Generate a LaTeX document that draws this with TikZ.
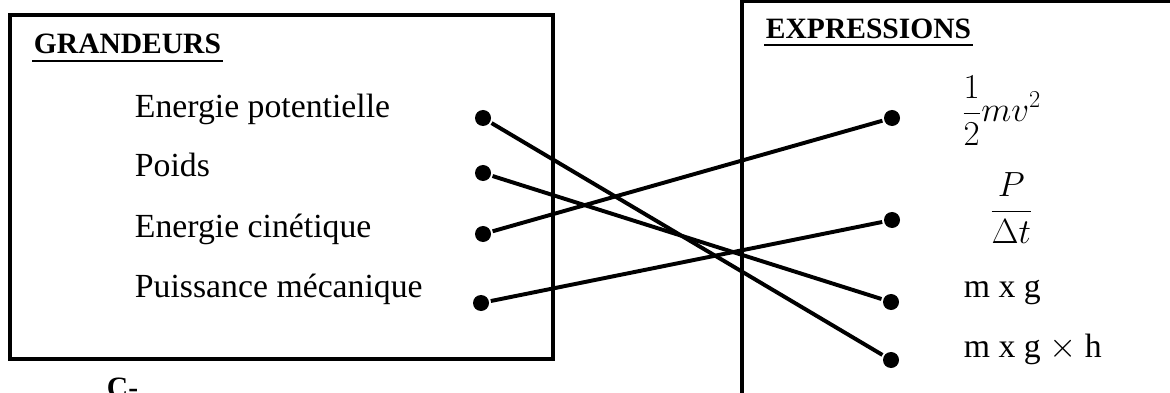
\documentclass[tikz,border=0pt]{standalone}
\usepackage{amsmath}
\usepackage{fontspec}
\setmainfont{Liberation Serif}
\usetikzlibrary{positioning}

\begin{document}
\begin{tikzpicture}[x=0.025cm,y=-0.025cm,line width=2.8pt,
  title/.style={font=\fontsize{21}{25}\selectfont\bfseries,anchor=base west,inner sep=0pt},
  item/.style={font=\fontsize{24}{28}\selectfont,anchor=base west,inner sep=0pt},
  dot/.style={circle,fill=black,inner sep=0pt,minimum size=0.4cm},
  link/.style={line width=2.8pt},
  uline/.style={line width=1.6pt}
]
  \useasboundingbox (0,0) rectangle (1170,393);
  % left box
  \draw (10,15) rectangle (553,359);
  \node[title] (gr) at (32,54) {GRANDEURS};
  \draw[uline] ([yshift=-3.5pt]gr.south west) -- ([yshift=-3.5pt]gr.south east);
  \node[item] (ep) at (133,118) {Energie potentielle};
  \node[item] (pd) at (133,177) {Poids};
  \node[item] (ec) at (133,237) {Energie cinétique};
  \node[item] (pm) at (133,297) {Puissance mécanique};
  \node[title] (lc) at (105,397) {C-};
  % right box
  \draw (742,393) -- (742,1) -- (1180,1);
  \node[title] (ex) at (764,39) {EXPRESSIONS};
  \draw[uline] ([yshift=-2.5pt]ex.south west) -- ([yshift=-2.5pt]ex.south east);
  \node[item,font=\fontsize{25}{29}\selectfont] (ekin) at (960,122) {$\displaystyle\frac{1}{2}mv^2$};
  \node[item,font=\fontsize{25}{29}\selectfont] (epow) at (988,220) {$\displaystyle\frac{P}{\Delta t}$};
  \node[item] (ewgt) at (962,297) {m x g};
  \node[item] (epot) at (962,357) {m x g $\times$ h};
  % dots
  \node[dot] (dEp) at (483,118) {};
  \node[dot] (dPd) at (483,173) {};
  \node[dot] (dEc) at (483,234) {};
  \node[dot] (dPm) at (481,303) {};
  \node[dot] (dKin) at (892,118) {};
  \node[dot] (dPow) at (892,220) {};
  \node[dot] (dWgt) at (891,302) {};
  \node[dot] (dPot) at (891,360) {};
  % links
  \draw[link] (dEp) -- (dPot);
  \draw[link] (dPd) -- (dWgt);
  \draw[link] (dEc) -- (dKin);
  \draw[link] (dPm) -- (dPow);
\end{tikzpicture}
\end{document}
